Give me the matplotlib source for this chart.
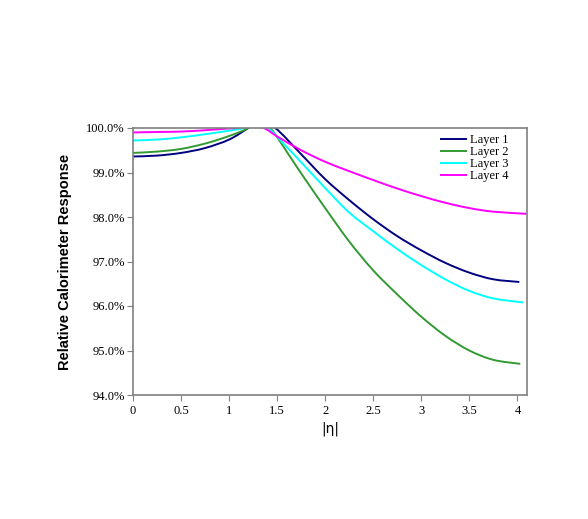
import matplotlib
matplotlib.use("Agg")
import numpy as np
import matplotlib.pyplot as plt
from matplotlib.lines import Line2D
from matplotlib.patches import PathPatch
from matplotlib.path import Path
from matplotlib.ticker import FuncFormatter

# |eta| sample points and relative response (%) per layer
eta_l1 = [0, 0.25, 0.5, 0.75, 1.0, 1.2, 1.3, 1.48, 1.75, 2.0, 2.25, 2.5,
          2.75, 3.0, 3.25, 3.5, 3.75, 4.02]
resp_l1 = [99.36, 99.38, 99.44, 99.55, 99.74, 100.0, 100.15, 100.0, 99.41,
           98.85, 98.38, 97.95, 97.57, 97.25, 96.97, 96.75, 96.60, 96.54]

eta_l2 = [0, 0.25, 0.5, 0.75, 1.0, 1.2, 1.3, 1.43, 1.75, 2.0, 2.25, 2.5,
          2.75, 3.0, 3.25, 3.5, 3.75, 4.03]
resp_l2 = [99.44, 99.47, 99.53, 99.65, 99.82, 100.0, 100.2, 100.0, 98.98,
           98.20, 97.45, 96.80, 96.26, 95.76, 95.33, 95.00, 94.79, 94.70]

eta_l3 = [0, 0.25, 0.5, 0.75, 1.0, 1.15, 1.3, 1.41, 1.75, 2.0, 2.25, 2.5,
          2.75, 3.0, 3.25, 3.5, 3.75, 4.06]
resp_l3 = [99.72, 99.74, 99.79, 99.86, 99.94, 100.0, 100.15, 100.0, 99.23,
           98.65, 98.10, 97.68, 97.28, 96.92, 96.60, 96.34, 96.17, 96.08]

eta_l4 = [0, 0.25, 0.5, 0.75, 1.0, 1.08, 1.2, 1.36, 1.5, 1.75, 2.0, 2.25,
          2.5, 2.75, 3.0, 3.25, 3.5, 3.75, 4.11]
resp_l4 = [99.90, 99.91, 99.92, 99.95, 99.99, 100.0, 100.05, 100.0, 99.81,
           99.50, 99.24, 99.03, 98.83, 98.64, 98.47, 98.32, 98.20, 98.12, 98.07]

labels = ["Layer 1", "Layer 2", "Layer 3", "Layer 4"]
colors = ["#000080", "#339933", "#00ffff", "#ff00ff"]

serif = "Liberation Serif"
sans = "Liberation Sans"


def smooth_path(x, y):
    """Bezier path through the points, like a spreadsheet 'smoothed line'."""
    p = np.column_stack([x, y]).astype(float)
    verts, codes = [p[0]], [Path.MOVETO]
    for i in range(len(p) - 1):
        p0 = p[max(i - 1, 0)]
        p3 = p[min(i + 2, len(p) - 1)]
        c1 = p[i] + (p[i + 1] - p0) / 6.0
        c2 = p[i + 1] - (p3 - p[i]) / 6.0
        verts += [c1, c2, p[i + 1]]
        codes += [Path.CURVE4] * 3
    return Path(verts, codes)


fig = plt.figure(figsize=(5.88, 5.19), dpi=100)
ax = fig.add_axes([133 / 588, 1 - 395 / 519, 394 / 588, 267 / 519])

series = [(eta_l1, resp_l1), (eta_l2, resp_l2), (eta_l3, resp_l3), (eta_l4, resp_l4)]
handles = []
for (x, y), lab, c in zip(series, labels, colors):
    ax.add_patch(PathPatch(smooth_path(x, y), facecolor="none", edgecolor=c,
                           lw=1.4))
    handles.append(Line2D([], [], color=c, lw=1.4, label=lab))

ax.set_xlim(0, 4.1)
ax.set_ylim(94, 100)
ax.set_xticks([0, 0.5, 1, 1.5, 2, 2.5, 3, 3.5, 4])
ax.set_xticklabels(["0", "0.5", "1", "1.5", "2", "2.5", "3", "3.5", "4"])
ax.set_yticks([94, 95, 96, 97, 98, 99, 100])
ax.yaxis.set_major_formatter(FuncFormatter(lambda v, p: f"{v:.1f}%"))

for s in ax.spines.values():
    s.set_color("#808080")
    s.set_linewidth(1.2)
ax.tick_params(axis="both", direction="out", length=4, width=0.8,
               color="#808080", labelsize=9)
ax.tick_params(axis="y", pad=2)
for t in ax.get_xticklabels() + ax.get_yticklabels():
    t.set_fontfamily(serif)

ax.set_xlabel("|η|", fontsize=10, family="DejaVu Sans", labelpad=3)
ax.set_ylabel("Relative Calorimeter Response", fontsize=10.5, family=sans,
              fontweight="bold", labelpad=10)

ax.legend(handles=handles, loc="upper right", bbox_to_anchor=(0.975, 1.01),
          frameon=False, prop={"family": serif, "size": 9},
          handlelength=2.0, labelspacing=0.0, handletextpad=0.3,
          borderaxespad=0.3)

fig.savefig("out.png", dpi=100, facecolor="white")
